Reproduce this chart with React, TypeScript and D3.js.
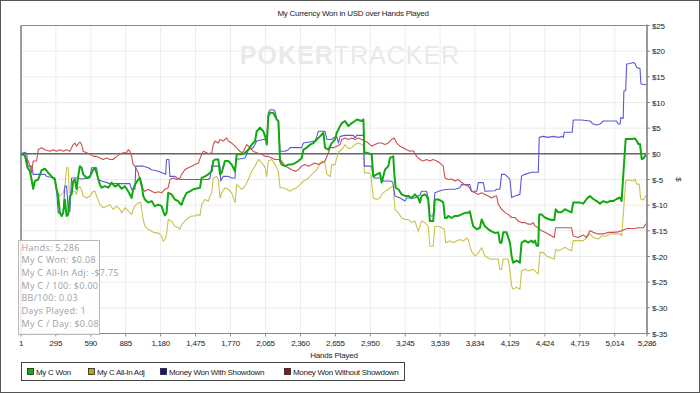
import React from 'react';
import * as d3 from 'd3';

// 축 눈금
const xTicks = [1, 295, 590, 885, 1180, 1475, 1770, 2065, 2360, 2655, 2950, 3245, 3539, 3834, 4129, 4424, 4719, 5014, 5286];
const yTicks = [25, 20, 15, 10, 5, 0, -5, -10, -15, -20, -25, -30, -35];

// [hand, USD]
const myCWon: [number, number][] = [
  [1, 0], [34, -0.3], [57, -2.7], [76, -3.4], [90, -5.0], [104, -6.8], [118, -5.3], [146, -5.0], [175, -3.2], [203, -2.9],
  [231, -3.7], [259, -4.4], [287, -5.0], [301, -6.9], [315, -8.2], [329, -11.5], [344, -12.1], [357, -11.5], [371, -8.9], [386, -12.1],
  [400, -11.8], [414, -8.2], [428, -7.9], [442, -5.3], [456, -5.0], [470, -6.9], [484, -4.4], [498, -2.4], [513, -2.7], [526, -4.0],
  [555, -4.7], [583, -4.4], [611, -3.1], [625, -2.7], [639, -3.7], [667, -6.0], [682, -6.6], [709, -6.3], [737, -6.6], [766, -5.6],
  [794, -6.4], [822, -6.0], [851, -6.8], [878, -6.3], [906, -7.3], [935, -8.6], [948, -6.9], [963, -6.0], [991, -5.0], [1005, -4.7],
  [1020, -6.0], [1033, -8.2], [1047, -8.9], [1075, -9.5], [1104, -9.2], [1131, -10.2], [1160, -9.9], [1188, -10.2], [1202, -11.2], [1216, -12.0],
  [1230, -11.5], [1244, -7.6], [1272, -7.9], [1300, -8.9], [1329, -9.2], [1343, -9.7], [1357, -9.9], [1371, -8.9], [1399, -7.6], [1428, -7.3],
  [1455, -6.9], [1512, -6.6], [1526, -4.7], [1554, -4.4], [1582, -4.0], [1597, -3.7], [1611, -3.4], [1624, -1.4], [1639, -1.1], [1667, -1.1],
  [1681, -4.0], [1695, -3.7], [1723, -1.4], [1751, -1.4], [1780, -2.1], [1808, -3.4], [1822, -0.1], [1865, -0.1], [1893, 0.2], [1920, 0.8],
  [1949, 1.8], [1977, 2.5], [1991, 4.4], [2019, 5.1], [2047, 4.4], [2062, 3.4], [2076, 1.8], [2089, 7.3], [2104, 8.0], [2131, 8.0],
  [2146, 7.3], [2160, 6.7], [2174, 6.4], [2188, -1.4], [2202, -2.1], [2230, -2.4], [2258, -2.1], [2287, -2.1], [2315, -1.8], [2343, -1.4],
  [2371, -0.8], [2385, 0.8], [2414, 1.2], [2442, 1.8], [2469, 2.1], [2498, 2.8], [2526, 3.4], [2554, 4.1], [2568, 1.2], [2596, 0.8],
  [2625, 2.1], [2652, 2.8], [2667, 4.1], [2695, 5.4], [2709, 6.0], [2737, 6.4], [2765, 5.4], [2793, 6.0], [2821, 6.4], [2836, 6.7],
  [2878, 6.4], [2892, 6.7], [2900, 0.2], [2920, 0.2], [2962, -0.1], [2975, -4.4], [3004, -4.0], [3031, -3.7], [3046, -5.6], [3074, -3.1],
  [3102, -2.4], [3116, -0.8], [3144, -0.5], [3152, -3.7], [3164, -6.6], [3187, -6.9], [3215, -7.9], [3243, -8.2], [3271, -8.2], [3299, -8.6],
  [3327, -7.9], [3355, -8.6], [3369, -9.5], [3383, -8.2], [3411, -7.9], [3425, -8.2], [3439, -8.9], [3453, -13.1], [3481, -13.1], [3495, -8.9],
  [3524, -8.9], [3552, -9.2], [3566, -9.5], [3580, -12.5], [3594, -12.5], [3608, -12.1], [3636, -12.5], [3664, -12.1], [3692, -12.1], [3721, -11.8],
  [3749, -11.5], [3777, -11.5], [3791, -11.2], [3805, -12.8], [3819, -14.1], [3848, -14.7], [3876, -14.4], [3890, -12.8], [3918, -14.1], [3946, -14.7],
  [3974, -15.1], [4002, -15.4], [4030, -15.3], [4044, -17.3], [4058, -17.3], [4072, -15.3], [4100, -15.3], [4129, -17.3], [4143, -19.9], [4156, -21.2],
  [4185, -20.8], [4213, -21.2], [4227, -17.3], [4255, -16.9], [4283, -17.3], [4311, -16.9], [4325, -17.3], [4340, -16.9], [4354, -17.9], [4368, -17.9],
  [4376, -11.8], [4396, -11.8], [4424, -12.4], [4452, -12.7], [4481, -12.9], [4503, -12.9], [4515, -10.8], [4537, -11.4], [4565, -11.4], [4593, -10.8],
  [4621, -11.1], [4649, -11.4], [4663, -9.5], [4692, -9.5], [4720, -9.5], [4748, -9.7], [4776, -8.8], [4804, -8.2], [4832, -8.8], [4861, -9.2],
  [4889, -9.7], [4917, -9.2], [4945, -9.5], [4973, -9.2], [5001, -9.2], [5029, -8.8], [5058, -8.5], [5072, -9.2], [5080, -6.2], [5091, -2.3],
  [5106, 2.9], [5128, 2.9], [5156, 2.9], [5185, 3.0], [5199, 2.5], [5213, 1.9], [5227, 1.9], [5241, -1.0], [5255, -0.9], [5286, 0.08],
];

const myCAllInAdj: [number, number][] = [
  [1, 0], [34, -0.3], [57, -2.7], [76, -3.4], [90, -5.0], [104, -6.8], [118, -5.3], [146, -5.0], [175, -3.2], [203, -2.9],
  [231, -3.7], [259, -4.4], [287, -5.0], [301, -7.3], [329, -8.2], [357, -7.6], [371, -6.6], [386, -2.7], [400, -2.7], [408, -7.6],
  [428, -7.9], [442, -7.3], [456, -7.3], [470, -7.9], [484, -6.6], [498, -6.4], [513, -7.0], [526, -8.2], [555, -8.6], [583, -8.2],
  [611, -7.3], [625, -7.3], [639, -8.2], [667, -9.9], [695, -10.5], [724, -10.2], [751, -9.9], [779, -10.8], [808, -10.2], [836, -10.8],
  [851, -11.5], [878, -10.5], [906, -11.1], [935, -11.8], [948, -10.8], [963, -10.2], [991, -9.5], [1012, -9.5], [1020, -10.8], [1033, -12.8],
  [1047, -14.1], [1075, -14.7], [1104, -15.1], [1131, -15.4], [1160, -15.4], [1188, -16.0], [1202, -17.0], [1216, -16.7], [1230, -15.7], [1244, -12.8],
  [1272, -13.1], [1300, -14.1], [1329, -14.4], [1343, -14.7], [1357, -13.8], [1385, -13.1], [1413, -12.5], [1442, -12.1], [1470, -12.1], [1498, -11.8],
  [1512, -12.1], [1526, -9.9], [1554, -8.9], [1582, -9.2], [1597, -8.2], [1611, -7.6], [1624, -4.7], [1653, -4.4], [1667, -5.0], [1681, -8.6],
  [1695, -7.6], [1723, -6.6], [1751, -6.9], [1780, -7.6], [1808, -9.5], [1822, -6.0], [1836, -6.3], [1865, -6.9], [1893, -6.3], [1920, -5.0],
  [1949, -3.4], [1977, -2.4], [2005, -1.1], [2019, -1.4], [2047, -2.1], [2062, -2.7], [2076, -4.4], [2089, -1.4], [2118, -1.1], [2146, -2.1],
  [2160, -2.7], [2174, -3.4], [2188, -6.6], [2216, -6.6], [2245, -6.9], [2272, -7.3], [2300, -6.9], [2329, -6.6], [2357, -6.0], [2385, -5.3],
  [2414, -5.0], [2442, -4.4], [2469, -3.7], [2498, -3.1], [2526, -1.8], [2540, -1.4], [2568, -1.8], [2583, -4.0], [2611, -4.4], [2625, -2.1],
  [2652, -2.1], [2680, 0.3], [2709, 0.8], [2737, 1.8], [2765, 1.0], [2793, 1.2], [2821, 1.8], [2849, 2.1], [2878, 1.8], [2892, 1.5],
  [2900, -3.7], [2933, -3.7], [2955, -4.0], [2975, -8.6], [3004, -8.9], [3031, -8.6], [3046, -7.9], [3074, -7.3], [3102, -7.0], [3116, -6.6],
  [3144, -6.3], [3158, -10.8], [3187, -11.5], [3215, -12.5], [3243, -12.8], [3271, -12.8], [3299, -13.4], [3327, -13.1], [3355, -15.1], [3383, -13.1],
  [3411, -13.4], [3439, -14.1], [3453, -18.0], [3481, -18.0], [3495, -14.1], [3524, -14.1], [3552, -14.4], [3575, -14.7], [3586, -17.3], [3622, -17.0],
  [3650, -17.3], [3678, -17.0], [3706, -16.7], [3735, -17.0], [3763, -16.4], [3777, -16.7], [3791, -18.0], [3805, -19.0], [3833, -19.9], [3862, -19.3],
  [3890, -18.3], [3918, -19.9], [3946, -20.3], [3974, -20.6], [4002, -20.5], [4030, -20.5], [4044, -22.5], [4058, -22.5], [4072, -20.5], [4114, -20.5],
  [4129, -22.5], [4143, -25.7], [4156, -26.4], [4185, -26.0], [4213, -26.4], [4227, -22.8], [4255, -22.5], [4283, -22.8], [4325, -22.5], [4354, -23.1],
  [4368, -23.4], [4382, -19.2], [4410, -19.2], [4438, -19.9], [4466, -20.2], [4503, -20.5], [4515, -18.6], [4537, -18.9], [4565, -18.6], [4593, -18.2],
  [4621, -18.6], [4649, -18.9], [4663, -16.9], [4705, -16.9], [4748, -16.9], [4776, -16.3], [4804, -15.6], [4832, -16.3], [4874, -16.6], [4903, -16.0],
  [4945, -16.0], [4973, -15.6], [5015, -15.6], [5058, -15.6], [5072, -16.0], [5085, -12.1], [5106, -5.3], [5128, -5.1], [5170, -5.3], [5185, -4.9],
  [5199, -5.9], [5220, -5.9], [5233, -8.8], [5255, -9.0], [5276, -8.2], [5286, -7.75],
];

const wonWithShowdown: [number, number][] = [
  [1, 0], [34, 0.3], [50, 0.0], [57, -2.4], [90, -2.4], [104, -4.0], [146, -4.0], [203, -4.0], [217, -4.4], [287, -4.7],
  [301, -6.9], [315, -11.5], [344, -11.8], [357, -11.5], [371, -6.3], [386, -6.3], [400, -11.2], [414, -11.2], [428, -4.7], [470, -4.7],
  [513, -4.9], [583, -4.7], [597, -2.7], [639, -2.7], [653, -5.0], [682, -5.3], [751, -5.8], [851, -5.8], [920, -5.8], [935, -6.9],
  [963, -6.9], [970, -2.4], [1033, -2.4], [1075, -2.7], [1104, -3.1], [1160, -3.4], [1222, -4.0], [1230, -1.1], [1250, -1.1], [1258, -4.4],
  [1300, -4.4], [1329, -4.9], [1357, -5.0], [1470, -5.0], [1582, -5.0], [1597, -4.7], [1611, -2.4], [1681, -2.4], [1687, -5.3], [1709, -4.4],
  [1751, -4.4], [1780, -4.7], [1808, -4.7], [1815, -1.1], [1893, -0.8], [1920, 0.8], [1962, 1.2], [1991, 2.5], [2047, 2.8], [2076, 2.8],
  [2089, 8.0], [2104, 8.6], [2131, 8.6], [2146, 8.3], [2160, 6.7], [2174, 6.4], [2188, 0.5], [2230, 0.5], [2258, 0.8], [2272, 1.2],
  [2371, 1.2], [2385, 2.1], [2484, 2.5], [2498, 3.4], [2512, 4.4], [2568, 4.4], [2583, 2.8], [2625, 2.8], [2638, 3.1], [2667, 3.4],
  [2680, 2.1], [2695, 3.4], [2737, 3.6], [2807, 3.6], [2821, 3.1], [2836, 3.6], [2892, 3.6], [2900, -2.4], [2962, -2.4], [2970, -4.0],
  [2983, -4.7], [3046, -4.7], [3060, -5.3], [3116, -5.3], [3140, -5.5], [3158, -8.2], [3201, -8.6], [3243, -9.2], [3257, -8.6], [3327, -8.6],
  [3369, -8.0], [3383, -7.3], [3425, -7.3], [3439, -8.6], [3453, -12.1], [3481, -12.1], [3495, -7.6], [3552, -7.1], [3608, -6.9], [3664, -6.9],
  [3706, -6.6], [3721, -6.0], [3791, -6.0], [3805, -7.3], [3848, -7.3], [3862, -5.6], [3904, -5.6], [3918, -7.3], [4002, -7.2], [4016, -6.9],
  [4044, -6.9], [4058, -4.0], [4086, -4.0], [4114, -4.6], [4129, -5.0], [4143, -8.5], [4171, -8.2], [4213, -7.9], [4227, -4.3], [4255, -4.0],
  [4311, -3.6], [4368, -3.6], [4376, 3.2], [4410, 3.4], [4452, 3.2], [4495, 3.4], [4537, 3.2], [4565, 3.4], [4580, 3.2], [4587, 4.2],
  [4655, 4.2], [4663, 6.6], [4734, 6.6], [4804, 6.4], [4832, 5.8], [4861, 5.6], [4889, 5.8], [4917, 6.4], [4987, 6.4], [5029, 6.4],
  [5043, 5.8], [5058, 5.8], [5066, 7.1], [5085, 6.9], [5091, 12.3], [5106, 12.3], [5114, 17.5], [5142, 17.6], [5170, 17.8], [5185, 17.6],
  [5199, 16.8], [5227, 16.6], [5235, 13.6], [5286, 13.4],
];

const wonWithoutShowdown: [number, number][] = [
  [1, 0], [34, -0.5], [62, -1.4], [76, -2.4], [90, -3.7], [104, -1.4], [133, -1.4], [146, 0.8], [175, 1.2], [203, 0.8],
  [245, 0.5], [273, 0.8], [301, 0.5], [329, 0.8], [357, 0.5], [386, 0.8], [414, 0.5], [442, 1.8], [456, 2.1], [470, 1.5],
  [498, 2.3], [513, 1.8], [526, 0.5], [555, 0.2], [583, -0.1], [611, -0.5], [639, -0.5], [667, -0.8], [695, -1.1], [724, -0.8],
  [751, -1.1], [779, -1.1], [808, -0.5], [836, -0.1], [864, 0.2], [892, 0.2], [906, 0.8], [920, 0.5], [935, -0.5], [948, -2.1],
  [963, -2.4], [991, -3.7], [1005, -5.0], [1020, -6.6], [1047, -7.3], [1075, -6.9], [1104, -7.3], [1131, -7.6], [1160, -7.4], [1188, -7.6],
  [1216, -6.9], [1244, -6.6], [1258, -5.0], [1286, -4.7], [1314, -5.0], [1343, -4.7], [1357, -4.0], [1385, -3.1], [1413, -2.7], [1442, -2.4],
  [1470, -2.1], [1498, -1.8], [1526, -0.1], [1540, 0.5], [1568, 0.2], [1582, 0.0], [1611, 0.2], [1624, 1.8], [1639, 2.5], [1667, 2.1],
  [1681, 2.8], [1709, 2.5], [1737, 3.1], [1751, 2.5], [1780, 2.1], [1808, 1.5], [1836, 0.8], [1865, 0.2], [1880, 0.5], [1907, 1.8],
  [1935, 1.2], [1962, 0.5], [1991, 0.2], [2033, -0.1], [2062, -0.5], [2089, -0.5], [2118, -0.8], [2146, -1.1], [2174, -1.1], [2202, -1.4],
  [2230, -2.4], [2258, -2.7], [2287, -3.1], [2315, -3.4], [2343, -3.1], [2371, -2.4], [2399, -2.1], [2428, -2.4], [2456, -2.1], [2484, -1.8],
  [2512, -2.1], [2540, -1.8], [2568, -1.4], [2596, 0.2], [2611, 1.2], [2638, 1.2], [2667, 1.5], [2695, 1.8], [2709, 2.8], [2737, 3.1],
  [2765, 2.8], [2793, 3.1], [2821, 2.8], [2849, 3.1], [2878, 2.8], [2905, 2.5], [2933, 2.1], [2962, 1.5], [2990, 1.8], [3017, 2.1],
  [3046, 2.1], [3074, 1.8], [3102, 2.1], [3130, 2.8], [3152, 3.1], [3173, 2.1], [3201, 1.5], [3228, 1.2], [3257, 0.8], [3285, 0.5],
  [3313, 0.6], [3341, -0.5], [3369, -1.1], [3397, -1.4], [3425, -1.1], [3453, -1.4], [3481, -1.1], [3510, -1.4], [3538, -1.8], [3566, -2.4],
  [3580, -4.7], [3608, -5.0], [3636, -4.9], [3664, -5.3], [3692, -5.0], [3721, -5.6], [3749, -6.0], [3777, -6.3], [3805, -7.3], [3833, -7.6],
  [3862, -7.9], [3890, -7.6], [3918, -7.9], [3946, -8.2], [3974, -8.6], [4002, -8.2], [4016, -8.2], [4030, -9.8], [4058, -10.8], [4086, -11.4],
  [4114, -11.8], [4143, -12.4], [4171, -12.4], [4199, -13.1], [4227, -13.4], [4255, -13.4], [4283, -13.7], [4311, -13.7], [4325, -13.4], [4340, -14.0],
  [4368, -14.4], [4396, -15.0], [4424, -15.3], [4452, -15.6], [4481, -16.0], [4503, -16.3], [4515, -14.4], [4551, -14.4], [4593, -14.4], [4649, -14.4],
  [4663, -16.0], [4705, -16.3], [4748, -15.8], [4776, -16.3], [4804, -15.0], [4832, -15.3], [4874, -15.6], [4917, -15.6], [4959, -15.3], [5001, -15.3],
  [5043, -15.2], [5072, -15.0], [5100, -14.7], [5128, -14.5], [5170, -14.6], [5213, -14.4], [5255, -14.4], [5286, -13.4],
];

const seriesNames = ['My C Won', 'My C All-In Adj', 'Money Won With Showdown', 'Money Won Without Showdown'];
const statLines = [
  'Hands: 5,286',
  'My C Won: $0.08',
  'My C All-In Adj: -$7.75',
  'My C / 100: $0.00',
  'BB/100: 0.03',
  'Days Played: 1',
  'My C / Day: $0.08',
];

const W = 700;
const H = 393;
const FONT = '"Liberation Sans", Arial, sans-serif';

export default function App() {
  const x = d3.scaleLinear().domain([1, 5286]).range([21, 647]);
  const y = d3.scaleLinear().domain([-35, 25]).range([333.5, 25.5]);
  const line = d3
    .line<[number, number]>()
    .x((d) => x(d[0]))
    .y((d) => y(d[1]));

  // 그리는 순서: 노랑, 파랑, 빨강, 초록(맨 위)
  const series = [
    { data: myCAllInAdj, stroke: '#c9c34e', width: 1.1 },
    { data: wonWithShowdown, stroke: '#5a5ad6', width: 1.1 },
    { data: wonWithoutShowdown, stroke: '#cc4f4f', width: 1.1 },
    { data: myCWon, stroke: '#11a811', width: 2 },
  ];
  const legendSwatches = ['#12b012', '#b5b000', '#10109a', '#a50f0f'];
  const legendX = [27, 88, 160, 284];
  const fmt = d3.format(',');

  return (
    <div style={{ position: 'absolute', left: 0, top: 0 }}>
      <svg width={W} height={H} style={{ display: 'block', background: '#fff' }} fontFamily={FONT}>
        <rect x={0.5} y={0.5} width={W - 1} height={H - 1} fill="#fff" stroke="#555" />

        <text x={353} y={16} textAnchor="middle" fontSize={8} letterSpacing={-0.25} fill="#222">
          My Currency Won in USD over Hands Played
        </text>

        {/* 워터마크 */}
        <text x={350} y={64} textAnchor="middle" fontSize={25} fill="#e9e9e9" letterSpacing={1}>
          <tspan fontWeight="bold">POKER</tspan>
          <tspan>TRACKER</tspan>
        </text>

        {/* 격자 */}
        {xTicks.map((t) => (
          <line key={`gx${t}`} x1={x(t)} x2={x(t)} y1={y(25)} y2={y(-35)} stroke="#ececec" />
        ))}
        {yTicks.map((t) => (
          <line key={`gy${t}`} x1={x(1)} x2={x(5286)} y1={y(t)} y2={y(t)} stroke="#ececec" />
        ))}

        {/* 프레임 */}
        <line x1={x(1)} x2={x(5286)} y1={y(25)} y2={y(25)} stroke="#8a8a8a" />
        <line x1={x(1)} x2={x(5286)} y1={y(-35)} y2={y(-35)} stroke="#8a8a8a" />
        <line x1={x(1)} x2={x(1)} y1={y(25)} y2={y(-35)} stroke="#444" />
        <line x1={x(1)} x2={x(5286)} y1={y(0)} y2={y(0)} stroke="#666" strokeWidth={1.5} />

        {series.map((s, i) => (
          <path key={i} d={line(s.data) as string} fill="none" stroke={s.stroke} strokeWidth={s.width} strokeLinejoin="round" />
        ))}

        {/* 오른쪽 y축 */}
        <line x1={647} x2={647} y1={y(25) - 1} y2={y(-35) + 1} stroke="#999" strokeWidth={2} />
        {yTicks.map((t) => (
          <g key={`yt${t}`}>
            <line x1={647} x2={650} y1={y(t)} y2={y(t)} stroke="#888" />
            <text x={652} y={y(t) + 3} fontSize={8} letterSpacing={-0.2} fill="#222">{`$${t}`}</text>
          </g>
        ))}
        <text transform={`translate(676, ${y(-5)}) rotate(90)`} textAnchor="middle" fontSize={8} fill="#222">$</text>

        {/* x축 */}
        {xTicks.map((t) => (
          <g key={`xt${t}`}>
            <line x1={x(t)} x2={x(t)} y1={y(-35)} y2={y(-35) + 3} stroke="#888" />
            <text x={x(t)} y={346} textAnchor="middle" fontSize={8} letterSpacing={-0.3} fill="#222">{fmt(t)}</text>
          </g>
        ))}
        <text x={334} y={357.5} textAnchor="middle" fontSize={8} letterSpacing={-0.2} fill="#222">Hands Played</text>

        {/* 통계 박스 */}
        <rect x={18.5} y={240.5} width={81} height={94} fill="#fff" fillOpacity={0.85} stroke="#b8b8b8" />
        {statLines.map((s, i) => (
          <text key={s} x={21.5} y={250.5 + i * 12.7} fontSize={9} letterSpacing={0.3} fill="#a0a0a0" fontFamily='"Open Sans", sans-serif'>
            {s}
          </text>
        ))}

        {/* 범례 */}
        <rect x={21.5} y={362.5} width={383} height={18} fill="#fff" stroke="#444" />
        {seriesNames.map((n, i) => (
          <g key={n}>
            <rect x={legendX[i] + 0.5} y={368.5} width={6} height={6} fill={legendSwatches[i]} stroke="#222" strokeWidth={0.8} />
            <text x={legendX[i] + 9} y={374.5} fontSize={8} letterSpacing={-0.3} fill="#222">{n}</text>
          </g>
        ))}
      </svg>
    </div>
  );
}
